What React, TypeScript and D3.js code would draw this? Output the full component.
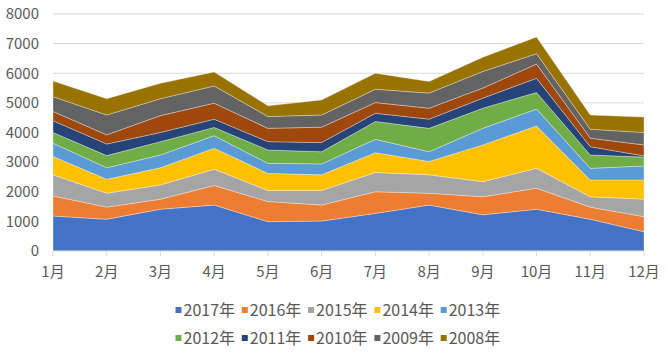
import * as d3 from "d3";

const months = ["1月", "2月", "3月", "4月", "5月", "6月", "7月", "8月", "9月", "10月", "11月", "12月"];
const years = ["2017年", "2016年", "2015年", "2014年", "2013年", "2012年", "2011年", "2010年", "2009年", "2008年"];
const colors = ["#4472C4", "#ED7D31", "#A5A5A5", "#FFC000", "#5B9BD5", "#70AD47", "#264478", "#9E480E", "#636363", "#997300"];

const v2017 = [1180, 1070, 1410, 1550, 990, 1010, 1270, 1550, 1220, 1410, 1070, 650];
const v2016 = [680, 410, 340, 660, 680, 540, 730, 400, 610, 710, 410, 510];
const v2015 = [710, 470, 480, 550, 370, 490, 650, 620, 510, 670, 350, 590];
const v2014 = [620, 470, 580, 710, 580, 530, 670, 450, 1240, 1430, 570, 650];
const v2013 = [450, 390, 430, 420, 340, 370, 450, 330, 560, 570, 390, 470];
const v2012 = [360, 410, 450, 280, 450, 410, 600, 790, 680, 560, 450, 300];
const v2011 = [400, 390, 310, 280, 280, 310, 280, 310, 340, 480, 280, 40];
const v2010 = [310, 310, 570, 540, 450, 520, 360, 370, 340, 480, 290, 370];
const v2009 = [500, 670, 570, 580, 400, 410, 450, 510, 560, 350, 300, 420];
const v2008 = [530, 550, 520, 470, 360, 510, 540, 390, 480, 560, 480, 520];

const series = [v2017, v2016, v2015, v2014, v2013, v2012, v2011, v2010, v2009, v2008];
const yTicks = [0, 1000, 2000, 3000, 4000, 5000, 6000, 7000, 8000];

const width = 672;
const height = 354;
const left = 53;
const right = 644;
const top = 14;
const bottom = 251;
const font = "'Noto Sans CJK SC', sans-serif";
const textColor = "#595959";

export default function App() {
  const rows = months.map((m, i) => {
    const r: Record<string, number | string> = { month: m };
    years.forEach((y, k) => (r[y] = series[k][i]));
    return r;
  });
  const stacked = d3.stack<Record<string, number | string>>().keys(years)(rows);

  const x = d3.scalePoint<string>().domain(months).range([left, right]);
  const y = d3.scaleLinear().domain([0, 8000]).range([bottom, top]);

  const area = d3
    .area<d3.SeriesPoint<Record<string, number | string>>>()
    .x((d) => x(d.data.month as string)!)
    .y0((d) => y(d[0]))
    .y1((d) => y(d[1]));

  const legendRows = [years.slice(0, 5), years.slice(5)];
  const itemW = 66.3;
  const legendX = 175.5;

  return (
    <svg
      width={width}
      height={height}
      style={{ position: "absolute", left: 0, top: 0, background: "#fff" }}
      fontFamily={font}
    >
      {yTicks.map((t) => (
        <g key={t}>
          {t > 0 && (
            <line x1={left} x2={right} y1={y(t)} y2={y(t)} stroke="#d9d9d9" strokeWidth={1} />
          )}
          <text x={39} y={y(t)} dy="0.35em" textAnchor="end" fontSize={15} fill={textColor}>
            {t}
          </text>
        </g>
      ))}
      {stacked.map((s, k) => (
        <path key={s.key} d={area(s) || undefined} fill={colors[k]} stroke="#ffffff" strokeOpacity={0.45} strokeWidth={0.7} />
      ))}
      <line x1={left} x2={right} y1={bottom} y2={bottom} stroke="#d9d9d9" strokeWidth={1} />
      {months.map((m) => (
        <g key={m}>
          <line x1={x(m)} x2={x(m)} y1={bottom} y2={bottom + 5} stroke="#d9d9d9" />
          <text x={x(m)} y={272} dy="0.35em" textAnchor="middle" fontSize={15} fill={textColor}>
            {m}
          </text>
        </g>
      ))}
      {legendRows.map((row, r) =>
        row.map((name, j) => {
          const k = r * 5 + j;
          const lx = legendX + j * itemW;
          const ly = r === 0 ? 310 : 338;
          return (
            <g key={name}>
              <rect x={lx} y={ly - 3} width={6} height={6} fill={colors[k]} />
              <text x={lx + 8} y={ly} dy="0.35em" fontSize={16} fill={textColor}>
                {name}
              </text>
            </g>
          );
        })
      )}
    </svg>
  );
}
